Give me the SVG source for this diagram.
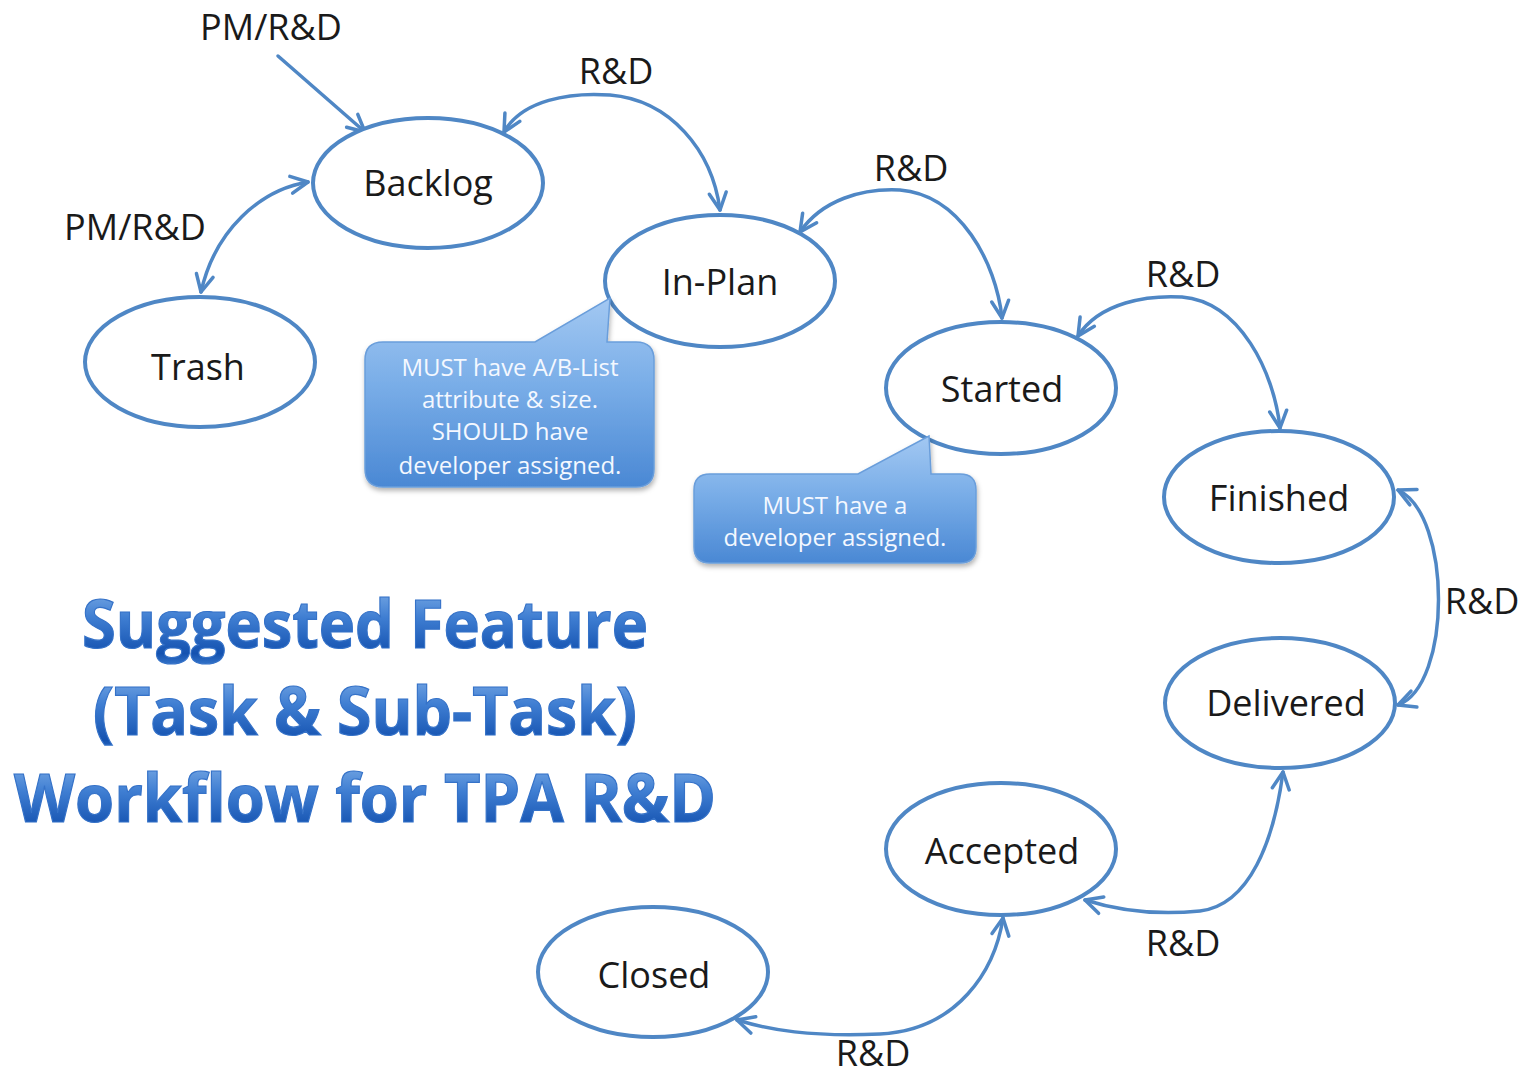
<svg xmlns="http://www.w3.org/2000/svg" width="1528" height="1078" viewBox="0 0 1528 1078">
  <style>
    .node ellipse { fill: #ffffff; stroke: #4f87c5; stroke-width: 4; }
    .node text { font-family: "Open Sans", "Noto Sans", sans-serif; font-size: 36px; fill: #1a1a1a; text-anchor: middle; }
    .edge { fill: none; stroke: #4f87c5; stroke-width: 3.5; stroke-linecap: round; }
    .lbl { font-family: "Open Sans", "Noto Sans", sans-serif; font-size: 36px; fill: #1a1a1a; text-anchor: middle; }
    .note path { fill: url(#noteFill); stroke: #6a9edb; stroke-width: 1.5; filter: url(#noteShadow); }
    .note text { font-family: "Open Sans", "Noto Sans", sans-serif; font-size: 24px; fill: #f4f8ff; text-anchor: middle; }
    .title { font-family: "Open Sans", "Noto Sans", sans-serif; font-weight: 700; font-size: 66px; fill: url(#titleFill); stroke: #3572c8; stroke-width: 1.2; text-anchor: middle; }
  </style>
  <defs>
    <marker id="arr" viewBox="-20 -12 24 24" markerWidth="24" markerHeight="24" refX="0" refY="0" orient="auto-start-reverse" markerUnits="userSpaceOnUse">
      <path d="M-17,-8.5 L0,0 L-17,8.5" fill="none" stroke="#4f87c5" stroke-width="3.5" stroke-linecap="round" stroke-linejoin="round"/>
    </marker>
    <linearGradient id="noteFill" x1="0" y1="0" x2="0" y2="1">
      <stop offset="0" stop-color="#a3c8f2"/>
      <stop offset="0.45" stop-color="#7aaee8"/>
      <stop offset="1" stop-color="#4a88d4"/>
    </linearGradient>
    <linearGradient id="titleFill" x1="0" y1="0" x2="0" y2="1">
      <stop offset="0" stop-color="#8fbaec"/>
      <stop offset="0.45" stop-color="#3f7ed2"/>
      <stop offset="0.85" stop-color="#1452b0"/>
      <stop offset="1" stop-color="#3a7acd"/>
    </linearGradient>
    <filter id="noteShadow" x="-10%" y="-10%" width="125%" height="130%">
      <feDropShadow dx="1" dy="3" stdDeviation="2.5" flood-color="#000000" flood-opacity="0.3"/>
    </filter>
  </defs>

  <!-- connectors -->
  <g id="connectors">
    <path class="edge" d="M278,56 L365,132" marker-end="url(#arr)"/>
    <path class="edge" d="M308,182 C260,190 215,230 201,292" marker-start="url(#arr)" marker-end="url(#arr)"/>
    <path class="edge" d="M504,132 C522,100 570,92 610,95 C670,100 712,150 720,210" marker-start="url(#arr)" marker-end="url(#arr)"/>
    <path class="edge" d="M800,232 C822,200 862,188 900,190 C960,195 996,262 1002,318" marker-start="url(#arr)" marker-end="url(#arr)"/>
    <path class="edge" d="M1078,336 C1100,302 1148,295 1182,297 C1240,302 1274,372 1280,428" marker-start="url(#arr)" marker-end="url(#arr)"/>
    <path class="edge" d="M1398,490 C1452,515 1452,685 1398,705" marker-start="url(#arr)" marker-end="url(#arr)"/>
    <path class="edge" d="M1283,772 C1274,840 1250,905 1200,911 C1150,916 1110,908 1085,900" marker-start="url(#arr)" marker-end="url(#arr)"/>
    <path class="edge" d="M1003,918 C995,970 958,1030 880,1034 C810,1037 770,1030 737,1020" marker-start="url(#arr)" marker-end="url(#arr)"/>
    <text class="lbl" x="271" y="40">PM/R&amp;D</text>
    <text class="lbl" x="135" y="240">PM/R&amp;D</text>
    <text class="lbl" x="616" y="84">R&amp;D</text>
    <text class="lbl" x="911" y="181">R&amp;D</text>
    <text class="lbl" x="1183" y="287">R&amp;D</text>
    <text class="lbl" x="1482" y="614">R&amp;D</text>
    <text class="lbl" x="1183" y="956">R&amp;D</text>
    <text class="lbl" x="873" y="1066">R&amp;D</text>
  </g>

  <!-- states -->
  <g id="backlog" class="node"><ellipse cx="428" cy="183" rx="115" ry="65"/><text x="428" y="196">Backlog</text></g>
  <g id="trash" class="node"><ellipse cx="200" cy="362" rx="115" ry="65"/><text x="198" y="380">Trash</text></g>
  <g id="in-plan" class="node"><ellipse cx="720" cy="281" rx="115" ry="66"/><text x="720" y="295">In-Plan</text></g>
  <g id="started" class="node"><ellipse cx="1001" cy="388" rx="115" ry="66"/><text x="1002" y="402">Started</text></g>
  <g id="finished" class="node"><ellipse cx="1279" cy="497" rx="115" ry="66"/><text x="1279" y="511">Finished</text></g>
  <g id="delivered" class="node"><ellipse cx="1280" cy="703" rx="115" ry="65"/><text x="1286" y="716">Delivered</text></g>
  <g id="accepted" class="node"><ellipse cx="1001" cy="849" rx="115" ry="66"/><text x="1002" y="864">Accepted</text></g>
  <g id="closed" class="node"><ellipse cx="653" cy="972" rx="115" ry="65"/><text x="654" y="988">Closed</text></g>

  <!-- callouts -->
  <g id="note-in-plan" class="note">
    <path d="M383,342 L535,342 L610,298 L607,342 L636,342 Q654,342 654,360 L654,469 Q654,487 636,487 L383,487 Q365,487 365,469 L365,360 Q365,342 383,342 Z"/>
    <text x="510" y="376">MUST have A/B-List</text>
    <text x="510" y="408">attribute &amp; size.</text>
    <text x="510" y="440">SHOULD have</text>
    <text x="510" y="474">developer assigned.</text>
  </g>
  <g id="note-started" class="note">
    <path d="M710,474 L858,474 L929,436 L931,474 L960,474 Q976,474 976,490 L976,547 Q976,563 960,563 L710,563 Q694,563 694,547 L694,490 Q694,474 710,474 Z"/>
    <text x="835" y="514">MUST have a</text>
    <text x="835" y="546">developer assigned.</text>
  </g>

  <!-- title -->
  <g id="title">
    <text class="title" x="365" y="648" textLength="566" lengthAdjust="spacingAndGlyphs">Suggested Feature</text>
    <text class="title" x="365" y="735" textLength="544" lengthAdjust="spacingAndGlyphs">(Task &amp; Sub-Task)</text>
    <text class="title" x="365" y="822" textLength="702" lengthAdjust="spacingAndGlyphs">Workflow for TPA R&amp;D</text>
  </g>
</svg>
